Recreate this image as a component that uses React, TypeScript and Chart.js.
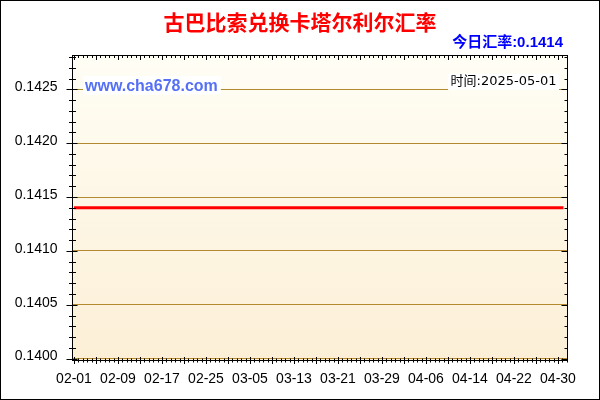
import { useEffect, useRef } from 'react'
import { Chart, registerables } from 'chart.js'

Chart.register(...registerables)

// daily dates 02-01 .. 05-01
const dates = [
  '02-01', '02-02', '02-03', '02-04', '02-05', '02-06', '02-07', '02-08', '02-09', '02-10',
  '02-11', '02-12', '02-13', '02-14', '02-15', '02-16', '02-17', '02-18', '02-19', '02-20',
  '02-21', '02-22', '02-23', '02-24', '02-25', '02-26', '02-27', '02-28', '03-01', '03-02',
  '03-03', '03-04', '03-05', '03-06', '03-07', '03-08', '03-09', '03-10', '03-11', '03-12',
  '03-13', '03-14', '03-15', '03-16', '03-17', '03-18', '03-19', '03-20', '03-21', '03-22',
  '03-23', '03-24', '03-25', '03-26', '03-27', '03-28', '03-29', '03-30', '03-31', '04-01',
  '04-02', '04-03', '04-04', '04-05', '04-06', '04-07', '04-08', '04-09', '04-10', '04-11',
  '04-12', '04-13', '04-14', '04-15', '04-16', '04-17', '04-18', '04-19', '04-20', '04-21',
  '04-22', '04-23', '04-24', '04-25', '04-26', '04-27', '04-28', '04-29', '04-30', '05-01',
]

const rates = [
  0.1414, 0.1414, 0.1414, 0.1414, 0.1414, 0.1414, 0.1414, 0.1414, 0.1414, 0.1414,
  0.1414, 0.1414, 0.1414, 0.1414, 0.1414, 0.1414, 0.1414, 0.1414, 0.1414, 0.1414,
  0.1414, 0.1414, 0.1414, 0.1414, 0.1414, 0.1414, 0.1414, 0.1414, 0.1414, 0.1414,
  0.1414, 0.1414, 0.1414, 0.1414, 0.1414, 0.1414, 0.1414, 0.1414, 0.1414, 0.1414,
  0.1414, 0.1414, 0.1414, 0.1414, 0.1414, 0.1414, 0.1414, 0.1414, 0.1414, 0.1414,
  0.1414, 0.1414, 0.1414, 0.1414, 0.1414, 0.1414, 0.1414, 0.1414, 0.1414, 0.1414,
  0.1414, 0.1414, 0.1414, 0.1414, 0.1414, 0.1414, 0.1414, 0.1414, 0.1414, 0.1414,
  0.1414, 0.1414, 0.1414, 0.1414, 0.1414, 0.1414, 0.1414, 0.1414, 0.1414, 0.1414,
  0.1414, 0.1414, 0.1414, 0.1414, 0.1414, 0.1414, 0.1414, 0.1414, 0.1414, 0.1414,
]

const xTickLabels = ['02-01', '02-09', '02-17', '02-25', '03-05', '03-13', '03-21', '03-29', '04-06', '04-14', '04-22', '04-30']
const yTickValues = [0.14, 0.1405, 0.141, 0.1415, 0.142, 0.1425]

const titleText = '古巴比索兑换卡塔尔利尔汇率'
const todayText = '今日汇率:0.1414'
const siteText = 'www.cha678.com'
const dateText = '时间:2025-05-01'

const SANS = '"Liberation Sans", Arial, "Noto Sans CJK SC", sans-serif'

const framePlugin = {
  id: 'frame',
  beforeDraw(chart: any) {
    const { ctx, chartArea: a, width, height } = chart
    ctx.save()
    ctx.fillStyle = '#ffffff'
    ctx.fillRect(0, 0, width, height)
    const g = ctx.createLinearGradient(0, a.top, 0, a.bottom)
    g.addColorStop(0, '#fffef5')
    g.addColorStop(1, '#fcefd6')
    ctx.fillStyle = g
    ctx.fillRect(a.left, a.top, a.right - a.left, a.bottom - a.top)
    ctx.restore()
  },
  afterDraw(chart: any) {
    const { ctx, chartArea: a, width, height } = chart
    const xs = chart.scales.x
    const ys = chart.scales.y
    ctx.save()

    // today's rate
    ctx.font = 'bold 15px ' + SANS
    ctx.fillStyle = '#0000ff'
    ctx.textAlign = 'right'
    ctx.textBaseline = 'middle'
    ctx.fillText(todayText, a.right - 4.5, 43)

    // site watermark
    ctx.font = 'bold 16px ' + SANS
    const sw = ctx.measureText(siteText).width
    ctx.fillStyle = '#ffffff'
    ctx.fillRect(a.left + 10.5, a.top + 20.5, sw + 5, 18.5)
    ctx.fillStyle = '#5570f5'
    ctx.textAlign = 'left'
    ctx.textBaseline = 'alphabetic'
    ctx.fillText(siteText, a.left + 12.5, a.top + 35.5)

    // date stamp
    ctx.font = '13px "DejaVu Sans", "Noto Sans CJK SC", sans-serif'
    const dw = ctx.measureText(dateText).width
    ctx.fillStyle = '#ffffff'
    ctx.fillRect(a.right - 8.5 - dw - 5, a.top + 18.5, dw + 5, 16)
    ctx.fillStyle = '#000000'
    ctx.textAlign = 'right'
    ctx.textBaseline = 'middle'
    ctx.fillText(dateText, a.right - 11, a.top + 26.5)

    // frame
    ctx.strokeStyle = '#000000'
    ctx.lineWidth = 1
    ctx.strokeRect(a.left, a.top, a.right - a.left, a.bottom - a.top)

    // tick marks
    ctx.beginPath()
    for (let i = 0; ; i++) {
      const v = i * 0.8
      if (v > xs.max) break
      const px = Math.round(xs.getPixelForValue(v)) + 0.5
      const major = i % 5 === 0
      ctx.moveTo(px, a.bottom - (major ? 3.5 : 2))
      ctx.lineTo(px, a.bottom + (major ? 3.5 : 2))
      ctx.moveTo(px, a.top)
      ctx.lineTo(px, a.top + (major ? 4.5 : 2.5))
    }
    for (let i = 0; ; i++) {
      const v = 0.14 + i * 0.0001
      if (v > ys.max) break
      const py = Math.round(ys.getPixelForValue(v)) + 0.5
      const major = i % 5 === 0
      ctx.moveTo(a.left - (major ? 6 : 3.5), py)
      ctx.lineTo(a.left + (major ? 5 : 3.5), py)
      ctx.moveTo(a.right - (major ? 6 : 3), py)
      ctx.lineTo(a.right, py)
    }
    ctx.stroke()

    // outer border
    ctx.strokeRect(0.5, 0.5, width - 1, height - 1)
    ctx.restore()
  },
}

export default function App() {
  const canvasRef = useRef<HTMLCanvasElement>(null)
  const chartRef = useRef<Chart | null>(null)

  useEffect(() => {
    if (!canvasRef.current) return
    chartRef.current?.destroy()

    chartRef.current = new Chart(canvasRef.current, {
      type: 'line',
      data: {
        datasets: [
          {
            label: 'rate',
            data: dates.map((_, i) => ({ x: i, y: rates[i] })),
            borderColor: '#ff0000',
            borderWidth: 3,
            pointRadius: 0,
            tension: 0,
            xAxisID: 'x',
            yAxisID: 'y',
          },
        ],
      },
      options: {
        animation: false,
        responsive: true,
        maintainAspectRatio: false,
        devicePixelRatio: 1,
        layout: { padding: 0 },
        plugins: {
          legend: { display: false },
          tooltip: { enabled: false },
          title: {
            display: true,
            text: titleText,
            color: '#ff0000',
            font: { family: '"Noto Sans CJK SC", sans-serif', size: 21, weight: 'bold' },
            padding: { top: 9.5, bottom: 20.8 },
          },
        },
        scales: {
          x: {
            type: 'linear',
            position: 'bottom',
            min: -0.273,
            max: 89.73,
            afterBuildTicks: (s: any) => {
              s.ticks = xTickLabels.map((l) => ({ value: dates.indexOf(l) }))
            },
            afterFit: (s: any) => {
              s.height = 39.5
            },
            ticks: {
              autoSkip: false,
              maxRotation: 0,
              padding: 10,
              color: '#000000',
              font: { family: SANS, size: 14 },
              callback: (v: any) => dates[v as number],
            },
            grid: { display: false, drawTicks: false },
            border: { display: false },
          },
          y: {
            type: 'linear',
            position: 'left',
            min: 0.1399824,
            max: 0.1428138,
            afterBuildTicks: (s: any) => {
              s.ticks = yTickValues.map((v) => ({ value: v }))
            },
            afterFit: (s: any) => {
              s.width = 72.5
            },
            ticks: {
              padding: 15,
              labelOffset: -2,
              color: '#000000',
              font: { family: SANS, size: 14 },
              callback: (v: any) => Number(v).toFixed(4),
            },
            grid: { color: '#b48a30', lineWidth: 1, drawTicks: false },
            border: { display: false },
          },
          yr: {
            type: 'linear',
            position: 'right',
            afterFit: (s: any) => {
              s.width = 32.5
            },
            ticks: { display: false },
            grid: { display: false, drawTicks: false },
            border: { display: false },
          },
        },
      },
      plugins: [framePlugin],
    })

    return () => {
      chartRef.current?.destroy()
    }
  }, [])

  return (
    <div style={{ position: 'fixed', left: 0, top: 0, width: 600, height: 400 }}>
      <canvas ref={canvasRef} />
    </div>
  )
}
